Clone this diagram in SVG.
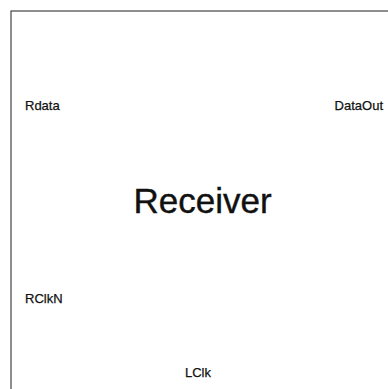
<svg xmlns="http://www.w3.org/2000/svg" width="388" height="389" viewBox="0 0 388 389">
  <style>
    .frame { fill: none; stroke: #444; stroke-width: 1.2; }
    .port { font-family: "Liberation Sans", Arial, sans-serif; font-size: 13px; fill: #111; stroke: #111; stroke-width: 0.25; }
    .title { font-family: "Liberation Sans", Arial, sans-serif; font-size: 35px; fill: #111; stroke: #111; stroke-width: 0.4; text-anchor: middle; }
  </style>
  <rect width="388" height="389" fill="#fff"/>
  <g id="receiver">
    <rect class="frame" x="11" y="11" width="400" height="400"/>
    <text class="title" x="202.5" y="213">Receiver</text>
  </g>
  <g id="port-rdata"><text class="port" x="25" y="110">Rdata</text></g>
  <g id="port-dataout"><text class="port" x="383" y="110" text-anchor="end">DataOut</text></g>
  <g id="port-rclkn"><text class="port" x="25" y="303">RClkN</text></g>
  <g id="port-lclk"><text class="port" x="185" y="377">LClk</text></g>
  <g id="connectors"></g>
</svg>
